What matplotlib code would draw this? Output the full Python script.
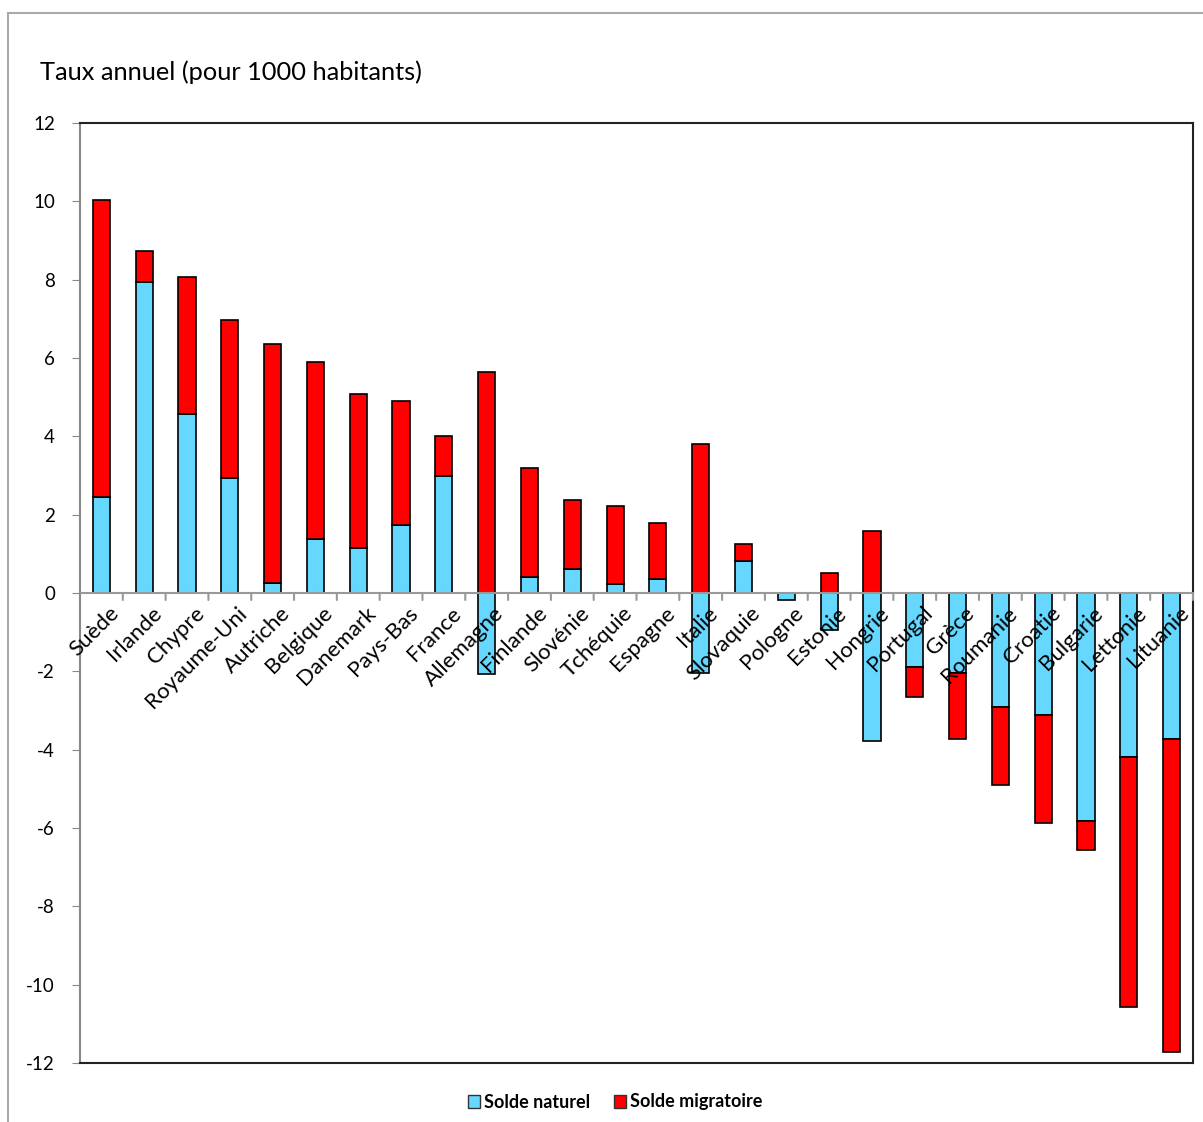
import matplotlib
matplotlib.use("Agg")
import matplotlib.pyplot as plt
import matplotlib.transforms as mtransforms
from matplotlib.patches import Patch
from matplotlib.lines import Line2D
import numpy as np

plt.rcParams['font.family'] = ['Lato', 'DejaVu Sans']
plt.rcParams['axes.unicode_minus'] = False

pays = ["Suède", "Irlande", "Chypre", "Royaume-Uni", "Autriche", "Belgique",
        "Danemark", "Pays-Bas", "France", "Allemagne", "Finlande", "Slovénie",
        "Tchéquie", "Espagne", "Italie", "Slovaquie", "Pologne", "Estonie",
        "Hongrie", "Portugal", "Grèce", "Roumanie", "Croatie", "Bulgarie",
        "Lettonie", "Lituanie"]
solde_naturel = [2.44, 7.93, 4.57, 2.93, 0.26, 1.39, 1.16, 1.74, 3.00, -2.07,
                 0.40, 0.62, 0.23, 0.36, -2.04, 0.82, -0.19, -0.95, -3.77,
                 -1.88, -2.04, -2.90, -3.11, -5.81, -4.19, -3.72]
solde_migratoire = [7.60, 0.80, 3.51, 4.05, 6.11, 4.50, 3.91, 3.17, 1.01, 5.65,
                    2.79, 1.75, 2.00, 1.44, 3.81, 0.43, 0.0, 0.50, 1.58,
                    -0.78, -1.70, -2.01, -2.75, -0.75, -6.37, -8.01]

nat = np.array(solde_naturel)
mig = np.array(solde_migratoire)
x = np.arange(len(pays))

# empilement facon excel : positifs vers le haut, negatifs vers le bas
base_mig = np.where(mig >= 0, np.maximum(nat, 0), np.minimum(nat, 0))

bleu = "#66D8FF"
rouge = "#FF0000"

fig = plt.figure(figsize=(12.03, 11.22), dpi=100)
ax = fig.add_axes([80/1203, 1-1063/1122, 1113/1203, 940/1122])

ax.bar(x, nat, width=0.4, color=bleu, edgecolor="black", linewidth=1.2, zorder=2)
ax.bar(x, mig, width=0.4, bottom=base_mig, color=rouge, edgecolor="black",
       linewidth=1.2, zorder=2)

ax.set_xlim(-0.5, len(pays) - 0.5)
ax.set_ylim(-12, 12)
ax.set_yticks(np.arange(-12, 13, 2))
ax.set_yticklabels([str(v) for v in range(-12, 13, 2)], fontsize=13.5)
ax.tick_params(axis='y', direction='out', length=6, color="#888888", pad=12)
ax.set_xticks([])

for s in ['top', 'right', 'bottom']:
    ax.spines[s].set_color("#222222")
    ax.spines[s].set_linewidth(1.5)
ax.spines['left'].set_color("#888888")
ax.spines['left'].set_linewidth(1.5)

# axe des x a zero, graduations entre les categories
ax.axhline(0, color="#999999", linewidth=1.5, zorder=3)
for b in np.arange(0.5, len(pays), 1):
    ax.annotate("", xy=(b, 0), xytext=(0, -7), textcoords='offset pixels',
                arrowprops=dict(arrowstyle='-', color="#999999", lw=1.5,
                                shrinkA=0, shrinkB=0), zorder=3)

lab_trans = mtransforms.offset_copy(ax.transData, fig=fig, x=7, y=-10, units='dots')
for i, p in enumerate(pays):
    ax.text(i, 0, p, transform=lab_trans, rotation=45, ha='right', va='top',
            rotation_mode='anchor', fontsize=16, zorder=5)

fig.text(40/1203, 1-72/1122, "Taux annuel (pour 1000 habitants)", fontsize=18.3,
         va='center', ha='left')

handles = [Patch(facecolor=bleu, edgecolor="#333333", label="Solde naturel"),
           Patch(facecolor=rouge, edgecolor="#333333", label="Solde migratoire")]
fig.legend(handles=handles, loc='center', bbox_to_anchor=(615/1203, 1-1102/1122),
           ncol=2, frameon=False, prop={'weight': 'bold', 'size': 13},
           handlelength=0.7, handleheight=0.7, handletextpad=0.2, columnspacing=1.3)

# cadre exterieur (seulement haut et gauche visibles)
fig.add_artist(Line2D([8/1203, 8/1203], [0, 1-13/1122], color="#aaaaaa", lw=1.5,
                      transform=fig.transFigure))
fig.add_artist(Line2D([8/1203, 1], [1-13/1122, 1-13/1122], color="#aaaaaa", lw=1.5,
                      transform=fig.transFigure))

fig.savefig("out.png", dpi=100)
